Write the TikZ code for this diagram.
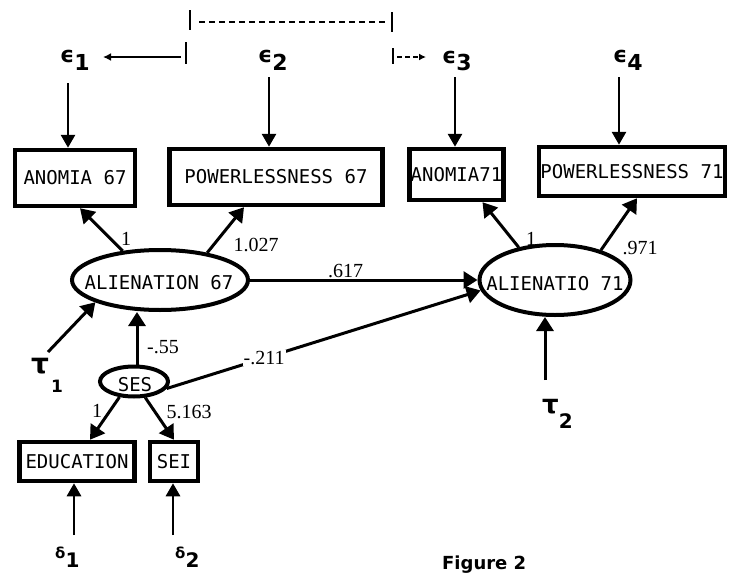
\documentclass[tikz,border=0pt]{standalone}
\usepackage{fontspec}
\usetikzlibrary{arrows.meta,shapes.geometric}
\newfontfamily\boxfont{DejaVu Sans Mono}
\newfontfamily\numfont{Liberation Serif}
\newfontfamily\grfont{DejaVu Sans}
\newcommand\fsz[1]{\fontsize{#1}{#1}\selectfont}
\begin{document}
\begin{tikzpicture}[x=1pt,y=-1pt,
  obsbox/.style={draw, line width=4.5pt, inner sep=0pt, font=\boxfont\fsz{19}},
  latent/.style={draw, ellipse, line width=4pt, inner sep=0pt},
  lattext/.style={inner sep=0pt, font=\boxfont\fsz{19}},
  coef/.style={font=\numfont\fsz{20}, inner sep=1pt},
  glab/.style={font=\grfont\bfseries, inner sep=0pt, anchor=base west},
  regpath/.style={line width=3pt, -{Triangle[width=17pt,length=14pt]}},
  errarrow/.style={line width=2.8pt, -{Triangle[width=14pt,length=13pt]}},
  bracket/.style={line width=2.2pt},
]
\useasboundingbox (0,0) rectangle (729,573);
\fill[white] (0,0) rectangle (729,573);

% observed variables
\node[obsbox, minimum width=120pt, minimum height=56pt] (a67) at (75,178) {ANOMIA 67};
\node[obsbox, minimum width=213pt, minimum height=56pt] (p67) at (276,177) {POWERLESSNESS 67};
\node[obsbox, minimum width=94pt, minimum height=51pt] (a71) at (456.5,174.5) {ANOMIA71};
\node[obsbox, minimum width=186pt, minimum height=49pt] (p71) at (632,171.5) {POWERLESSNESS 71};
\node[obsbox, minimum width=115pt, minimum height=39pt] (edu) at (77,461.5) {EDUCATION};
\node[obsbox, minimum width=48pt, minimum height=39pt] (sei) at (174,461.5) {SEI};

% latent variables
\node[latent, minimum width=176pt, minimum height=60pt] (l67) at (160,280) {};
\node[lattext] (l67t) at (159,283) {ALIENATION 67};
\node[latent, minimum width=151pt, minimum height=70pt] (l71) at (555,280) {};
\node[lattext] (l71t) at (555,284) {ALIENATIO 71};
\node[latent, minimum width=68pt, minimum height=30pt] (ses) at (134,381.5) {};
\node[lattext] (sest) at (135,385) {SES};

% error labels
\node[glab] (e1) at (60,62) {\fsz{22}ϵ\raisebox{-8pt}{1}};
\node[glab] (e2) at (258,62) {\fsz{22}ϵ\raisebox{-8pt}{2}};
\node[glab] (e3) at (442,63) {\fsz{22}ϵ\raisebox{-7pt}{3}};
\node[glab] (e4) at (613,62) {\fsz{22}ϵ\raisebox{-8pt}{4}};
\node[glab] (t1) at (31,373) {\fsz{28}τ\kern2pt\raisebox{-19pt}{\fsz{17}1}};
\node[glab] (t2) at (542,413) {\fsz{26}τ\raisebox{-15pt}{\fsz{20}2}};
\node[glab] (d1) at (55,558) {\fsz{15}δ\raisebox{-9pt}{\fsz{20}1}};
\node[glab] (d2) at (175,558) {\fsz{15}δ\raisebox{-9pt}{\fsz{20}2}};
\node[glab, font=\grfont\bfseries\fsz{18}] (fig) at (442,569) {Figure 2};

% error arrows
\coordinate (e1s) at (68,83);
\coordinate (e2s) at (269,77);
\coordinate (e3s) at (455,77);
\coordinate (e4s) at (619,77);
\draw[errarrow] (e1s) -- (e1s |- a67.north);
\draw[errarrow] (e2s) -- (e2s |- p67.north);
\draw[errarrow] (e3s) -- (e3s |- a71.north);
\draw[errarrow] (e4s) -- (e4s |- p71.north);
\coordinate (d1s) at (74,535);
\coordinate (d2s) at (173,535);
\draw[errarrow] (d1s) -- (d1s |- edu.south);
\draw[errarrow] (d2s) -- (d2s |- sei.south);
\coordinate (t1s) at (48,352);
\draw[regpath] (t1s) -- (l67.199);
\coordinate (t2s) at (545,380);
\draw[regpath] (t2s) -- (t2s |- l71.south);

% loadings
\draw[regpath] (l67.142) -- ([xshift=5pt]a67.south);
\node[coef] (c1a) at (126,239) {1};
\draw[regpath] (l67.30) -- ([xshift=-32pt]p67.south);
\node[coef] (c1b) at (256,245) {1.027};
\draw[regpath] (l71.138) -- ([xshift=26pt]a71.south);
\node[coef] (c1c) at (531,239) {1};
\draw[regpath] (l71.33) -- ([xshift=5pt]p71.south);
\node[coef] (c1d) at (640,248) {.971};
\draw[regpath] (ses.227) -- ([xshift=13pt]edu.north);
\node[coef] (c1e) at (97,411) {1};
\draw[regpath] (ses.305) -- (sei.north);
\node[coef] (c1f) at (189,412) {5.163};

% structural paths
\draw[regpath] ([xshift=3pt]ses.north) -- ([xshift=3pt]ses.north |- l67.south);
\node[coef] (c55) at (163,347) {-.55};
\draw[regpath] (l67.east) -- node[coef, above, pos=0.42] (c617) {.617} (l71.west);
\draw[regpath] (ses.-12) -- node[coef, fill=white, pos=0.31] (c211) {-.211} (l71.188);

% top bracket
\coordinate (b1t) at (190,10); \coordinate (b1b) at (190,30);
\coordinate (b2t) at (392,12); \coordinate (b2b) at (392,32);
\draw[bracket] (b1t) -- (b1b);
\draw[bracket] (b2t) -- (b2b);
\draw[line width=1.6pt, dash pattern=on 6pt off 4pt] (199,22) -- (388,22);
\coordinate (b3t) at (186,42); \coordinate (b3b) at (186,64);
\draw[bracket] (b3t) -- (b3b);
\draw[line width=1.6pt, -{Latex[length=8pt,width=8pt]}] (181,57) -- (103,57);
\coordinate (b4t) at (393,48); \coordinate (b4b) at (393,64);
\draw[bracket] (b4t) -- (b4b);
\draw[line width=1.6pt, dash pattern=on 5pt off 3pt, -{Latex[length=7pt,width=7pt]}] (397,57) -- (426,57);
\end{tikzpicture}
\end{document}
